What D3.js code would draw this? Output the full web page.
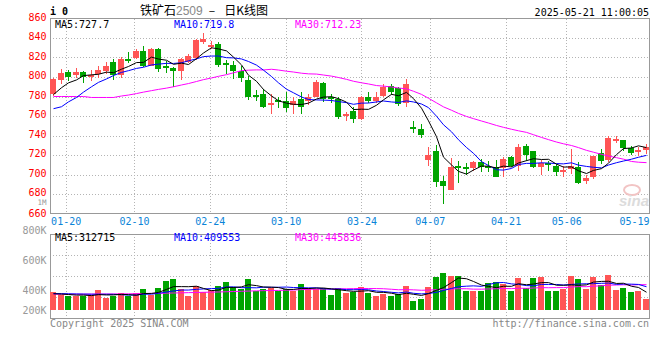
<!DOCTYPE html>
<html>
<head>
<meta charset="utf-8">
<script src="https://cdn.jsdelivr.net/npm/d3@7/dist/d3.min.js"></script>
<style>
  body { margin: 0; background: #fff; }
  svg { display: block; font-family: "DejaVu Sans Mono", monospace; }
</style>
</head>
<body>
<svg id="canvas" width="660" height="360"></svg>
<script>
// fechas de cada vela (dias de mercado)
const fechas = [
  "01-16","01-17","01-20","01-21","01-22","01-23","01-24","01-27",
  "02-05","02-06","02-07","02-10","02-11","02-12","02-13","02-14","02-17","02-18","02-19","02-20","02-21","02-24","02-25","02-26","02-27","02-28",
  "03-03","03-04","03-05","03-06","03-07","03-10","03-11","03-12","03-13","03-14","03-17","03-18","03-19","03-20","03-21","03-24","03-25","03-26","03-27","03-28","03-31",
  "04-01","04-02","04-03","04-07","04-08","04-09","04-10","04-11","04-14","04-15","04-16","04-17","04-18","04-21","04-22","04-23","04-24","04-25","04-28","04-29","04-30",
  "05-06","05-07","05-08","05-09","05-12","05-13","05-14","05-15","05-16","05-19","05-20","05-21"
]

const apertura = [783,797,805,802,805,800,803,806,815,802,818,820,827,812,829,811,809,806,816,820,836,832,834,814,812,806,797,782,783,771,776,775,771,777,776,780,794,779,777,761,765,757,780,776,781,791,789,774,749,747,715,724,693,684,709,708,707,713,709,708,707,718,709,729,724,708,712,709,704,706,708,693,697,722,714,735,735,727,723,725]
const maximo   = [799,808,807,809,806,807,811,815,818,821,826,829,832,830,830,816,810,819,824,839,845,837,836,817,816,811,801,787,788,783,779,785,780,785,783,797,795,783,780,764,769,781,785,785,793,793,790,798,755,752,728,730,698,717,714,712,714,716,714,715,718,719,731,731,724,715,714,711,709,726,713,699,719,726,739,740,735,729,728,731]
const minimo   = [781,793,796,799,794,796,799,803,797,799,814,818,810,811,805,804,790,797,814,817,834,829,810,803,798,795,776,775,768,762,768,764,762,762,771,779,774,773,757,755,753,756,773,773,780,782,770,769,743,737,709,687,670,684,691,699,704,703,703,697,697,708,704,714,707,699,704,698,697,701,690,690,695,711,713,732,724,720,719,721]
const cierre   = [798,804,800,805,800,802,807,811,802,818,816,827,812,829,808,810,806,818,822,838,839,833,812,812,806,799,780,781,770,773,774,768,775,769,780,795,778,777,759,762,757,780,776,780,790,785,773,793,748,741,720,692,688,708,708,706,713,708,708,698,716,709,728,720,708,712,710,703,705,709,692,696,719,714,737,736,727,722,725,728]
const volumen  = [318000,260000,242000,242000,248000,272000,348000,212000,248000,295000,248000,295000,365000,255000,383000,512000,541000,365000,248000,424000,318000,348000,418000,489000,406000,371000,541000,336000,365000,395000,336000,378000,336000,453000,383000,378000,383000,260000,383000,295000,318000,401000,300000,242000,290000,242000,277000,418000,154000,189000,401000,577000,647000,594000,594000,336000,336000,330000,476000,494000,453000,330000,559000,383000,559000,577000,330000,330000,378000,594000,541000,365000,577000,436000,607000,348000,383000,313000,330000,189000]

// medias de los dias previos al inicio
const ma5Inicio  = [782,789,794,797]
const ma10Inicio = [767.5,769.5,774.5,779,784.5,790,794.5,798,801.5]
const ma30Inicio = [780,780,780,780,780,779,779,779,779,780.5,781.5,783,784.5,786,787.3,788.6,790,791.8,793.3,795.4,797.3,799,800.7,802.4,804.3,806.5,807,807.3,807.2]
const volMa5Inicio  = [285000,280000,272000,262000]
const volMa10Inicio = [290000,288000,285000,282000,280000,278000,278000,277000,276000]
const volMa30Inicio = [278000,278000,278000,278000,279000,279000,280000,281000,282000,283000,285000,287000,289000,291000,293000,296000,299000,302000,305000,308000,311000,314000,317000,321000,325000,329000,333000,337000,340000]

// valores de la leyenda tal como salen en el grafico
const leyendaPrecio = ["727.7", "719.8", "712.23"]
const leyendaVol = ["312715", "409553", "445836"]

const ticksPrecio = [660,680,700,720,740,760,780,800,820,840,860]
const ticksFecha = ["01-20","02-10","02-24","03-10","03-24","04-07","04-21","05-06","05-19"]
const ticksVol = [800000,600000,400000,200000]

const ROJO = "#ff5555", VERDE = "#00a400", GRIS = "#999", REJILLA = "#b4b4b4"

let canvas = d3.select("#canvas")

// escalas
const x = d3.scaleBand().domain(fechas).range([50, 650])
const xEtiqueta = d3.scaleLinear().domain([0, fechas.length]).range([50.5, 657.3])
const y = d3.scaleLinear().domain([660, 860]).range([213.5, 18.5])
const yVol = d3.scaleLinear().domain([0, 800000]).range([310, 264.5])
// las etiquetas del volumen no van espaciadas igual en el original
const yVolEtiqueta = d3.scaleLinear().domain([200000, 400000, 600000, 800000]).range([310.3, 290, 260.5, 230.3])

const centro = d => Math.round(x(d)) + 3

const media = (valores, n, inicio) => valores.map((v, i) =>
  i < n - 1 ? inicio[i] : d3.mean(valores.slice(i - n + 1, i + 1)))

const ma5 = media(cierre, 5, ma5Inicio)
const ma10 = media(cierre, 10, ma10Inicio)
const ma30 = media(cierre, 30, ma30Inicio)
const vma5 = media(volumen, 5, volMa5Inicio)
const vma10 = media(volumen, 10, volMa10Inicio)
const vma30 = media(volumen, 30, volMa30Inicio)

// ---------- cabecera ----------
canvas.append("text").attr("x", 50).attr("y", 15)
  .style("font-size", "10px").style("font-weight", "bold").text("i 0")

const titulo = canvas.append("text").attr("x", 140).attr("y", 14.5)
  .style("font-family", "'Noto Sans CJK SC', sans-serif").style("font-size", "12px")
titulo.append("tspan").text("铁矿石")
titulo.append("tspan").attr("fill", "#888").style("font-family", "'Liberation Sans', sans-serif").text("2509")
titulo.append("tspan").attr("dx", 6).text("–")
titulo.append("tspan").attr("dx", 9).text("日K线图")

canvas.append("text").attr("x", 649).attr("y", 16).attr("text-anchor", "end")
  .style("font-size", "10px").text("2025-05-21 11:00:05")

// ---------- rejilla ----------
const rejilla = canvas.append("g")
  .attr("stroke", REJILLA).attr("stroke-dasharray", "1,2").attr("shape-rendering", "crispEdges")

rejilla.selectAll(".h").data(ticksPrecio.slice(1, -1)).enter().append("line")
  .attr("x1", 50).attr("x2", 649).attr("y1", d => Math.round(y(d)) + 0.5).attr("y2", d => Math.round(y(d)) + 0.5)

const fechasRejilla = ticksFecha.slice(0, -1)
rejilla.selectAll(".v").data(fechasRejilla).enter().append("line")
  .attr("x1", d => Math.round(xEtiqueta(fechas.indexOf(d))) + 0.5)
  .attr("x2", d => Math.round(xEtiqueta(fechas.indexOf(d))) + 0.5)
  .attr("y1", 19).attr("y2", 213)
rejilla.selectAll(".vv").data(fechasRejilla).enter().append("line")
  .attr("x1", d => Math.round(xEtiqueta(fechas.indexOf(d))) + 0.5)
  .attr("x2", d => Math.round(xEtiqueta(fechas.indexOf(d))) + 0.5)
  .attr("y1", 234).attr("y2", 318)
rejilla.selectAll(".hv").data([255, 276, 297]).enter().append("line")
  .attr("x1", 50).attr("x2", 649).attr("y1", d => d + 0.5).attr("y2", d => d + 0.5)

// marcos
canvas.append("rect").attr("x", 50.5).attr("y", 18.5).attr("width", 599).attr("height", 195)
  .attr("fill", "none").attr("stroke", GRIS).attr("shape-rendering", "crispEdges")
canvas.append("rect").attr("x", 50.5).attr("y", 234.5).attr("width", 599).attr("height", 84)
  .attr("fill", "none").attr("stroke", GRIS).attr("shape-rendering", "crispEdges")

// ---------- ejes ----------
const ejeY = canvas.append("g").attr("transform", "translate(50,0)")
  .call(d3.axisLeft(y).tickValues(ticksPrecio).tickSize(0).tickPadding(3.5))
ejeY.select(".domain").remove()
ejeY.selectAll("text").attr("fill", "#ff0000").attr("dy", d => d === 660 ? "0.25em" : "0.15em")
  .style("font-family", "'DejaVu Sans Mono', monospace").style("font-size", "10px")

canvas.append("text").attr("x", 46.5).attr("y", 204.9).attr("text-anchor", "end")
  .attr("fill", GRIS).style("font-size", "7.5px").text("1M")

const ejeX = canvas.append("g").attr("transform", "translate(0,213)")
  .call(d3.axisBottom(xEtiqueta).tickValues(ticksFecha.map(f => fechas.indexOf(f)))
    .tickFormat(i => fechas[i]).tickSize(0).tickPadding(4.5))
ejeX.select(".domain").remove()
ejeX.selectAll("text").attr("fill", "#0a84d8")
  .style("font-family", "'DejaVu Sans Mono', monospace").style("font-size", "10px")
ejeX.selectAll(".tick").filter(d => d === fechas.indexOf("05-19"))
  .select("text").attr("text-anchor", "end").attr("x", 649 - xEtiqueta(fechas.indexOf("05-19")))

const ejeV = canvas.append("g").attr("transform", "translate(50,0)")
  .call(d3.axisLeft(yVolEtiqueta).tickValues(ticksVol).tickSize(0).tickPadding(3.5)
    .tickFormat(v => (v / 1000) + "K"))
ejeV.select(".domain").remove()
ejeV.selectAll("text").attr("fill", GRIS)
  .style("font-family", "'DejaVu Sans Mono', monospace").style("font-size", "10px")

// ---------- marca de agua ----------
canvas.append("ellipse").attr("cx", 632).attr("cy", 190).attr("rx", 8).attr("ry", 5)
  .attr("fill", "none").attr("stroke", "#f2c4c4").attr("stroke-width", 2)
canvas.append("text").attr("x", 619).attr("y", 206)
  .style("font-family", "'Liberation Sans', sans-serif").style("font-style", "italic")
  .style("font-weight", "bold").style("font-size", "15px").attr("fill", "#dcdcdc").text("sina")

// ---------- velas ----------
const velas = canvas.append("g").attr("shape-rendering", "crispEdges")
  .selectAll("g").data(fechas).enter().append("g")
  .attr("fill", (d, i) => cierre[i] >= apertura[i] ? ROJO : VERDE)
  .attr("stroke", (d, i) => cierre[i] >= apertura[i] ? ROJO : VERDE)

velas.append("line")
  .attr("x1", d => centro(d) + 0.5).attr("x2", d => centro(d) + 0.5)
  .attr("y1", (d, i) => y(maximo[i])).attr("y2", (d, i) => y(minimo[i]))

velas.append("rect")
  .attr("stroke", "none")
  .attr("x", d => Math.round(x(d)))
  .attr("width", 6)
  .attr("y", (d, i) => Math.round(y(Math.max(apertura[i], cierre[i]))))
  .attr("height", (d, i) => Math.max(1.5, Math.round(Math.abs(y(apertura[i]) - y(cierre[i])))))

// medias moviles del precio
const linea = d3.line().x((v, i) => centro(fechas[i]) + 0.5).y(v => y(v))
const lineas = canvas.append("g").attr("fill", "none").attr("stroke-width", 1)
lineas.append("path").datum(ma30).attr("stroke", "#ff00ff").attr("d", linea)
lineas.append("path").datum(ma10).attr("stroke", "#0000ff").attr("d", linea)
lineas.append("path").datum(ma5).attr("stroke", "#000").attr("d", linea)

// ---------- volumen ----------
canvas.append("g").attr("shape-rendering", "crispEdges")
  .selectAll("rect").data(fechas).enter().append("rect")
  .attr("x", d => Math.round(x(d)))
  .attr("width", 6)
  .attr("y", (d, i) => yVol(volumen[i]))
  .attr("height", (d, i) => yVol(0) - yVol(volumen[i]))
  .attr("fill", (d, i) => cierre[i] >= apertura[i] ? ROJO : VERDE)

const lineaVol = d3.line().x((v, i) => centro(fechas[i]) + 0.5).y(v => yVol(v))
const lineasVol = canvas.append("g").attr("fill", "none").attr("stroke-width", 1)
lineasVol.append("path").datum(vma30).attr("stroke", "#ff00ff").attr("d", lineaVol)
lineasVol.append("path").datum(vma10).attr("stroke", "#0000ff").attr("d", lineaVol)
lineasVol.append("path").datum(vma5).attr("stroke", "#000").attr("d", lineaVol)

// ---------- leyendas ----------
const leyenda = (yy, valores) => {
  const g = canvas.append("g").style("font-size", "10px")
  g.selectAll("text").data(valores).enter().append("text")
    .attr("x", (d, i) => [55, 174, 295][i]).attr("y", yy)
    .attr("fill", (d, i) => ["#000", "#0000ff", "#ff00ff"][i])
    .text((d, i) => ["MA5:", "MA10:", "MA30:"][i] + d)
}
leyenda(27.5, leyendaPrecio)
leyenda(241, leyendaVol)

// pie
canvas.append("text").attr("x", 50).attr("y", 326.5).attr("fill", "#888")
  .style("font-size", "10px").text("Copyright 2025 SINA.COM")
canvas.append("text").attr("x", 649).attr("y", 326.5).attr("text-anchor", "end").attr("fill", "#888")
  .style("font-size", "10px").text("http://finance.sina.com.cn")
</script>
</body>
</html>
